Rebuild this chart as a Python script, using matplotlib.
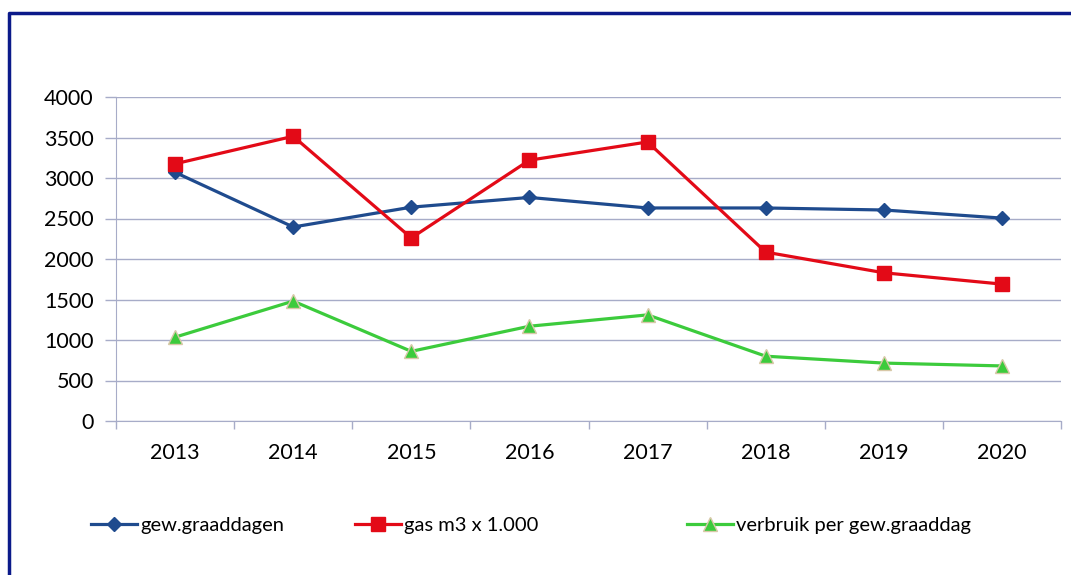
import numpy as np
import matplotlib.pyplot as plt
from matplotlib.lines import Line2D

# Data
years = ['2013', '2014', '2015', '2016', '2017', '2018', '2019', '2020']
graaddagen = [3070, 2395, 2640, 2760, 2630, 2630, 2605, 2505]
gas = [3175, 3515, 2260, 3220, 3445, 2085, 1830, 1690]
verbruik = [1035, 1480, 860, 1170, 1310, 800, 715, 680]

blue = '#1F4B8E'
red = '#E30A17'
green = '#3CCB3C'
grid_col = '#A7ACC8'

plt.rcParams['font.family'] = ['Lato', 'DejaVu Sans']

fig = plt.figure(figsize=(10.71, 5.75), dpi=100)
W, H = 1071, 575
ax = fig.add_axes([116 / W, 1 - 421 / H, (1061 - 116) / W, (421 - 97) / H])

x = np.arange(len(years))
ax.plot(x, graaddagen, color=blue, lw=2.3, marker='D', ms=7, label='gew.graaddagen')
ax.plot(x, gas, color=red, lw=2.3, marker='s', ms=10, label='gas m3 x 1.000')
ax.plot(x, verbruik, color=green, lw=2.3, marker='^', ms=10, mec='#D8C8A8', mew=1,
        label='verbruik per gew.graaddag')

ax.set_xlim(-0.5, len(years) - 0.5)
ax.set_ylim(0, 4000)
ax.set_yticks(np.arange(0, 4001, 500))
ax.set_xticks(x)
ax.set_xticklabels(years)
ax.set_xticks(np.arange(-0.5, len(years), 1), minor=True)
ax.tick_params(axis='x', which='major', length=0, pad=16, labelsize=15.5)
ax.tick_params(axis='x', which='minor', length=6, color=grid_col, width=1)
ax.tick_params(axis='y', length=8, color=grid_col, width=1, pad=8, labelsize=15.5)
ax.grid(axis='y', color=grid_col, lw=1)
ax.set_axisbelow(True)
for s in ['top', 'right']:
    ax.spines[s].set_visible(False)
for s in ['left', 'bottom']:
    ax.spines[s].set_color(grid_col)

# legend entries placed separately like the original
handles = ax.get_lines()
lx = [91, 355, 687]
for h, px in zip(handles, lx):
    fig.legend(handles=[h], loc='center left', bbox_to_anchor=(px / W, 1 - 525 / H),
               frameon=False, fontsize=14.5, handlelength=2.3, handletextpad=0.15,
               borderaxespad=0, borderpad=0)

# navy frame around the chart (cut off at right and bottom)
frame = Line2D([9 / W, 9 / W, 1.0], [0.0, 1 - 13 / H, 1 - 13 / H],
               transform=fig.transFigure, color='#0B1A8A', lw=2.5)
fig.add_artist(frame)

fig.savefig('out.png', dpi=100)
